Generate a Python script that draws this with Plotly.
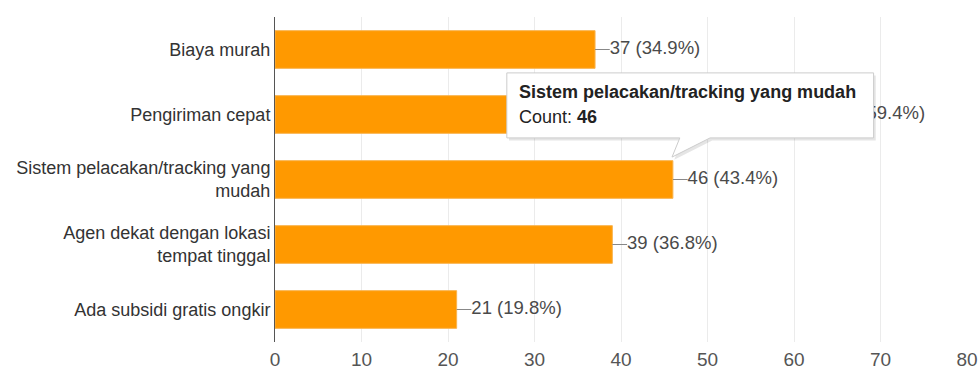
import plotly.graph_objects as go

categories = ["Biaya murah", "Pengiriman cepat", "Sistem pelacakan/tracking yang<br>mudah",
              "Agen dekat dengan lokasi<br>tempat tinggal", "Ada subsidi gratis ongkir"]
counts = [37, 63, 46, 39, 21]
percents = ["34.9%", "59.4%", "43.4%", "36.8%", "19.8%"]
x_ticks = [0, 10, 20, 30, 40, 50, 60, 70, 80]

tooltip_title = "Sistem pelacakan/tracking yang mudah"
tooltip_count = 46

LEAD = 1.7

fig = go.Figure()
fig.add_trace(go.Bar(
    y=categories, x=counts, orientation="h",
    marker=dict(color="#ff9900", line=dict(color="#f9b450", width=1)),
    hoverinfo="skip", showlegend=False,
))

# leader lines
lx, ly = [], []
for c, v in zip(categories, counts):
    lx += [v, v + LEAD, None]
    ly += [c, c, None]
fig.add_trace(go.Scatter(x=lx, y=ly, mode="lines", line=dict(color="#888", width=1),
                         hoverinfo="skip", showlegend=False))
fig.add_trace(go.Scatter(
    x=[v + LEAD for v in counts], y=categories, mode="text",
    text=[f"{v} ({p})" for v, p in zip(counts, percents)],
    textposition="middle right", textfont=dict(family="Arial", size=18.5, color="#4a4a4a"),
    hoverinfo="skip", showlegend=False,
))

# tooltip shadow + box
x0, x1, yt, yb = 26.8, 69.2, 0.828, 0.628
tail = (50.3, 45.9, 0.569, 46.8)
def path(dx, dy):
    return (f"M {x0+dx},{yt-dy} L {x1+dx},{yt-dy} L {x1+dx},{yb-dy} L {tail[0]+dx},{yb-dy} "
            f"L {tail[1]+dx},{tail[2]-dy} L {tail[3]+dx},{yb-dy} L {x0+dx},{yb-dy} Z")
fig.add_shape(type="path", xref="x", yref="paper", path=path(0.25, 0.008),
              fillcolor="rgba(0,0,0,0.10)", line=dict(width=0), layer="above")
fig.add_shape(type="path", xref="x", yref="paper", path=path(0, 0),
              fillcolor="white", line=dict(color="#cccccc", width=1), layer="above")
fig.add_annotation(x=28.0, y=0.769, xref="x", yref="paper", xanchor="left", yanchor="middle",
                   text=f"<b>{tooltip_title}</b>", showarrow=False,
                   font=dict(family="Arial", size=18, color="#222"))
fig.add_annotation(x=28.0, y=0.692, xref="x", yref="paper", xanchor="left", yanchor="middle",
                   text=f"Count: <b>{tooltip_count}</b>", showarrow=False,
                   font=dict(family="Arial", size=18, color="#222"))

fig.update_layout(
    width=978, height=369,
    margin=dict(l=275, r=11, t=17, b=27, autoexpand=False),
    paper_bgcolor="white", plot_bgcolor="white",
    bargap=0.42,
    font=dict(family="Arial", size=18, color="#333"),
)
fig.update_xaxes(range=[0, 80], tickvals=x_ticks, showgrid=True, gridcolor="#ebebeb",
                 zeroline=False, showline=False, ticks="", ticklabelstandoff=4,
                 ticklabeloverflow="allow", automargin=False,
                 tickfont=dict(family="Arial", size=19, color="#555"), fixedrange=True)
fig.update_yaxes(autorange="reversed", showline=True, linecolor="#555", linewidth=1,
                 ticks="", ticklabelstandoff=0, showgrid=False, automargin=False,
                 tickfont=dict(family="Arial", size=18, color="#333"), fixedrange=True)

fig.write_html("out.html")
